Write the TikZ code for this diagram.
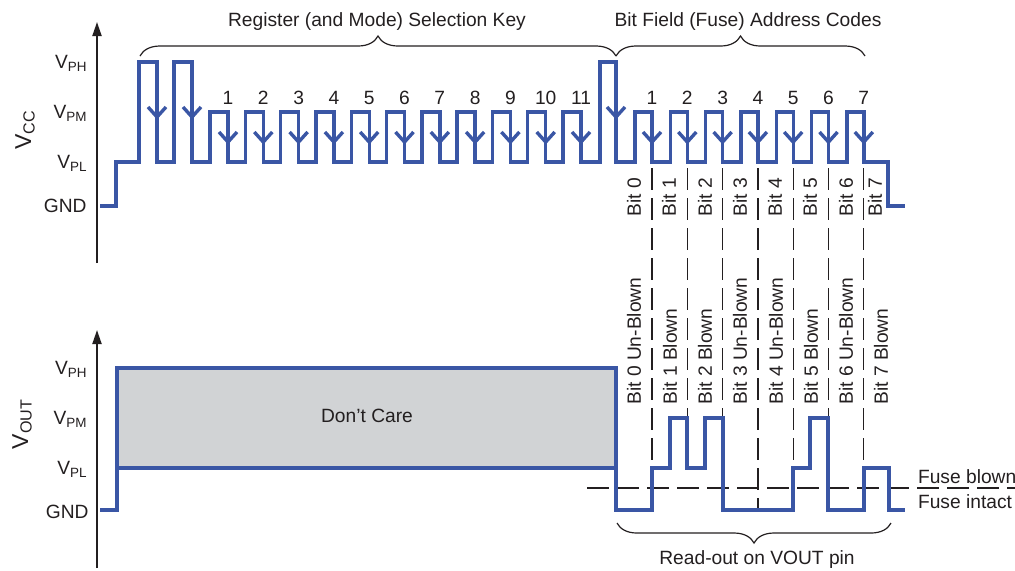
\documentclass[tikz,border=0pt]{standalone}
\usepackage{fontspec}
\setmainfont{Liberation Sans}
\usetikzlibrary{arrows.meta,decorations.pathreplacing}
\definecolor{trace}{HTML}{3A56A5}
\definecolor{dcgray}{HTML}{D1D3D5}
\definecolor{ink}{HTML}{231F20}
\newcommand{\fallmark}[2]{\draw[wave] ({#1-9},{#2-10}) -- (#1,#2) -- ({#1+9},{#2-10});}

\begin{document}
\begin{tikzpicture}[x=0.5pt,y=-0.5pt,font=\fontsize{9.6}{11.5}\selectfont,text=ink,
  wave/.style={draw=trace,line width=1.7pt},
  guide/.style={draw=ink,line width=0.6pt,dash pattern=on 11pt off 4pt},
  curly/.style={draw=ink,decorate,decoration={brace,amplitude=10pt},line width=0.6pt},
  bit/.style={rotate=90,anchor=west,inner sep=0pt},
  lvl/.style={anchor=base east,inner sep=0pt},
  axis/.style={draw=ink,line width=1pt,-{Triangle[length=7pt,width=4.5pt]}}]
\useasboundingbox (0,0) rectangle (1015,570);

% axes and level names
\draw[axis] (97,263) -- (97,22);
\draw[axis] (97,568) -- (97,330);
\node[rotate=90,font=\fontsize{11.5}{13}\selectfont] (vcc) at (25,130) {V\textsubscript{CC}};
\node[rotate=90,font=\fontsize{11.5}{13}\selectfont] (vout) at (22,424) {V\textsubscript{OUT}};
\node[lvl] (ph1) at (88,68) {V\textsubscript{PH}};
\node[lvl] (pm1) at (88,118) {V\textsubscript{PM}};
\node[lvl] (pl1) at (88,168) {V\textsubscript{PL}};
\node[lvl] (gnd1) at (87,212) {GND};
\node[lvl] (ph2) at (88,374) {V\textsubscript{PH}};
\node[lvl] (pm2) at (88,424) {V\textsubscript{PM}};
\node[lvl] (pl2) at (88,474) {V\textsubscript{PL}};
\node[lvl] (gnd2) at (89,518) {GND};

% keys
\draw[curly] (140,56) -- (616,56);
\draw[curly] (616,56) -- (865,56);
\draw[curly] (891,523) -- (617,523);
\node (regkey) at (377,22) {Register (and Mode) Selection Key};
\node (bfkey) at (748,22) {Bit Field (Fuse) Address Codes};
\node (rdout) at (757,560) {Read-out on VOUT pin};

% bit slots
\foreach \k/\yy in {0/468,1/418,2/418,3/510,4/468,5/418,6/468}
  \draw[guide] ({652+35.3*\k},168) -- ({652+35.3*\k},\yy);
\draw[guide] (587,488) -- (1015,488);
\node[anchor=west] (blown) at (911,477) {Fuse blown};
\node[anchor=west] (intact) at (911,502) {Fuse intact};
\foreach \k/\xx in {0/634,1/669,2/705,3/740,4/775,5/810,6/846,7/875}
  \node[bit] (tb\k) at (\xx,217) {Bit \k};
\foreach \k/\xx/\st in {0/634/Un-Blown,1/670/Blown,2/705/Blown,3/740/Un-Blown,
    4/776/Un-Blown,5/811/Blown,6/846/Un-Blown,7/881/Blown}
  \node[bit] (bb\k) at (\xx,405) {Bit \k\ \st};

% VCC trace
\draw[wave] (100,206) -| (116,162) -| (139,62) -| (157,162) -| (174,62) -| (192,162)
  \foreach \k in {0,...,10} { -| ({210+35.3*\k},112) -| ({228+35.3*\k},162) }
  -| (600,62) -| (616,162)
  \foreach \k in {0,...,6} { -| ({635+35.3*\k},112) -| ({652+35.3*\k},162) }
  -| (888,206) -- (905,206);
\fallmark{157}{117}
\fallmark{192}{117}
\fallmark{616}{117}
\foreach \k in {0,...,10} {
  \fallmark{228+35.3*\k}{142}
  \node (rk\k) at ({228+35.3*\k},98) {\pgfmathparse{int(\k+1)}\pgfmathresult};
}
\foreach \k in {0,...,6} {
  \fallmark{652+35.3*\k}{142}
  \node (fk\k) at ({652+35.3*\k},98) {\pgfmathparse{int(\k+1)}\pgfmathresult};
}

% VOUT trace
\fill[dcgray] (117,368) rectangle (616,468);
\node (dc) at (367,416) {Don't Care};
\draw[wave] (117,468) -- (616,468);
\draw[wave] (100,510) -| (117,368) -| (616,510) -| (652,468) -| (670,418) -| (687,468)
  -| (705,418) -| (723,510) -| (793,468) -| (810,418) -| (828,510) -| (864,468)
  -| (889,510) -- (905,510);
\end{tikzpicture}
\end{document}
